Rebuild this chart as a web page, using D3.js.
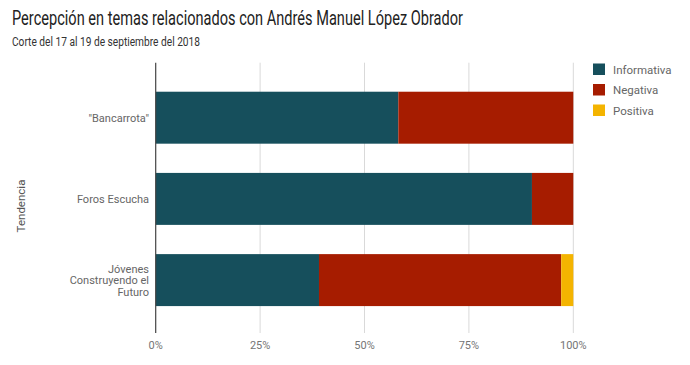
<!DOCTYPE html>
<html><head><meta charset="utf-8">
<script src="https://cdn.jsdelivr.net/npm/d3@7"></script>
<style>body{margin:0;background:#fff}text{font-family:Roboto,"Noto Sans",sans-serif}</style>
</head><body><svg id="c" width="690" height="365"></svg>
<script>
const categories = [["\"Bancarrota\""], ["Foros Escucha"], ["Jóvenes", "Construyendo el", "Futuro"]];
const categoryKeys = ["Bancarrota", "Foros Escucha", "Jóvenes Construyendo el Futuro"];
const seriesNames = ["Informativa", "Negativa", "Positiva"];
const informativa = [58.1, 90.1, 39.1];
const negativa = [41.9, 9.9, 58.0];
const positiva = [0, 0, 2.9];
const tickValues = [0, 25, 50, 75, 100];
const colors = ["#164f5c", "#a61c00", "#f4b400"];

const svg = d3.select("#c");
const x = d3.scaleLinear().domain([0, 100]).range([155.7, 573.3]);
const y = d3.scaleBand().domain(categoryKeys).range([77.1, 320.7]).paddingInner(0.36).paddingOuter(0.18);
const plotTop = 62.7, plotBottom = 333;

svg.append("g").selectAll("line").data(tickValues.slice(1)).join("line")
  .attr("x1", d => x(d)).attr("x2", d => x(d)).attr("y1", plotTop).attr("y2", plotBottom)
  .attr("stroke", "#d9d9d9").attr("stroke-width", 1);

svg.append("g").selectAll("text").data(tickValues).join("text")
  .attr("x", d => x(d)).attr("y", 349).attr("text-anchor", "middle")
  .attr("font-size", 11).attr("fill", "#757575").text(d => d + "%");

const rows = categoryKeys.map((k, i) => ({key: k, Informativa: informativa[i], Negativa: negativa[i], Positiva: positiva[i]}));
const stack = d3.stack().keys(seriesNames)(rows);
svg.append("g").selectAll("g").data(stack).join("g").attr("fill", (d, i) => colors[i])
  .selectAll("rect").data(d => d).join("rect")
  .attr("x", d => x(d[0])).attr("width", d => x(d[1]) - x(d[0]))
  .attr("y", d => y(d.data.key)).attr("height", y.bandwidth());

svg.append("line").attr("x1", x(0)).attr("x2", x(0)).attr("y1", plotTop).attr("y2", plotBottom)
  .attr("stroke", "#444").attr("stroke-width", 1.2);

const lh = 11.6;
categoryKeys.forEach((k, i) => {
  const lines = categories[i];
  const cy = y(k) + y.bandwidth() / 2;
  const t = svg.append("text").attr("text-anchor", "end").attr("font-size", 11).attr("fill", "#666");
  lines.forEach((ln, j) => {
    t.append("tspan").attr("x", 149).attr("y", cy + (j - (lines.length - 1) / 2) * lh + 4).text(ln);
  });
});

svg.append("text").attr("transform", "translate(25,206) rotate(-90)").attr("text-anchor", "middle")
  .attr("font-size", 11.5).attr("fill", "#555").text("Tendencia");

svg.append("text").attr("x", 12).attr("y", 25).attr("font-size", 19.5).attr("fill", "#222")
  .attr("textLength", 451).attr("lengthAdjust", "spacingAndGlyphs")
  .text("Percepción en temas relacionados con Andrés Manuel López Obrador");
svg.append("text").attr("x", 12).attr("y", 46).attr("font-size", 12.5).attr("fill", "#333")
  .attr("textLength", 188).attr("lengthAdjust", "spacingAndGlyphs")
  .text("Corte del 17 al 19 de septiembre del 2018");

const lg = svg.append("g").selectAll("g").data(seriesNames).join("g")
  .attr("transform", (d, i) => `translate(593,${63.5 + i * 20.5})`);
lg.append("rect").attr("width", 12).attr("height", 11.5).attr("fill", (d, i) => colors[i]);
lg.append("text").attr("x", 20).attr("y", 10).attr("font-size", 11.5).attr("fill", "#666").text(d => d);
</script></body></html>
